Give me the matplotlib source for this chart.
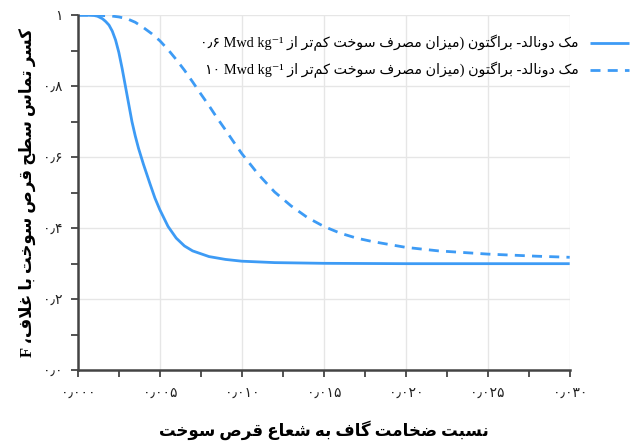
import numpy as np
import matplotlib
matplotlib.use('Agg')
import matplotlib.pyplot as plt
from matplotlib.ticker import MultipleLocator

# Data
gap_solid = [0.0, 0.0005, 0.0010, 0.0012, 0.0015, 0.0017, 0.0019, 0.0021, 0.0023, 0.0025,
             0.0027, 0.0029, 0.0031, 0.0033, 0.0035, 0.0037, 0.0040, 0.0044, 0.0047,
             0.0050, 0.0055, 0.0060, 0.0065, 0.0070, 0.0080, 0.0090, 0.0100, 0.0120,
             0.0150, 0.0200, 0.0250, 0.0300]
f_solid = [1.000, 1.000, 0.999, 0.997, 0.990, 0.982, 0.972, 0.955, 0.930, 0.895,
           0.850, 0.800, 0.750, 0.700, 0.660, 0.625, 0.580, 0.525, 0.485,
           0.452, 0.405, 0.372, 0.350, 0.336, 0.320, 0.312, 0.307, 0.303,
           0.301, 0.300, 0.300, 0.300]

gap_dashed = [0.0, 0.0010, 0.0020, 0.0025, 0.0030, 0.0035, 0.0040, 0.0045, 0.0050, 0.0055,
              0.0060, 0.0065, 0.0070, 0.0075, 0.0080, 0.0085, 0.0090, 0.0095, 0.0100,
              0.0110, 0.0120, 0.0130, 0.0140, 0.0150, 0.0160, 0.0170, 0.0180, 0.0200,
              0.0220, 0.0250, 0.0280, 0.0300]
f_dashed = [1.000, 1.000, 0.998, 0.995, 0.990, 0.980, 0.965, 0.948, 0.928, 0.903,
            0.875, 0.845, 0.812, 0.778, 0.745, 0.710, 0.677, 0.643, 0.610,
            0.552, 0.502, 0.463, 0.430, 0.405, 0.386, 0.372, 0.362, 0.346,
            0.336, 0.327, 0.321, 0.318]

x_ticks = [0.0, 0.005, 0.010, 0.015, 0.020, 0.025, 0.030]
x_tick_labels = ['0.000', '0.005', '0.010', '0.015', '0.020', '0.025', '0.030']
y_ticks = [0.0, 0.2, 0.4, 0.6, 0.8, 1.0]
y_tick_labels = ['0.0', '0.2', '0.4', '0.6', '0.8', '1']

label_solid_num = '0.6'
label_dashed_num = '10'
label_text = 'مک دونالد- براگتون (میزان مصرف سوخت کم\u200cتر از'
x_title = 'نسبت ضخامت گاف به شعاع قرص سوخت'
y_title = 'کسر تماس سطح قرص سوخت با غلاف،'

# Arabic/Persian shaping (isolated, final, initial, medial)
FORMS = {
    'ا': ('\ufe8d', '\ufe8e'), 'د': ('\ufea9', '\ufeaa'), 'ر': ('\ufead', '\ufeae'),
    'ز': ('\ufeaf', '\ufeb0'), 'و': ('\ufeed', '\ufeee'),
    'ب': ('\ufe8f', '\ufe90', '\ufe91', '\ufe92'), 'ت': ('\ufe95', '\ufe96', '\ufe97', '\ufe98'),
    'ح': ('\ufea1', '\ufea2', '\ufea3', '\ufea4'), 'خ': ('\ufea5', '\ufea6', '\ufea7', '\ufea8'),
    'س': ('\ufeb1', '\ufeb2', '\ufeb3', '\ufeb4'), 'ش': ('\ufeb5', '\ufeb6', '\ufeb7', '\ufeb8'),
    'ص': ('\ufeb9', '\ufeba', '\ufebb', '\ufebc'), 'ض': ('\ufebd', '\ufebe', '\ufebf', '\ufec0'),
    'ط': ('\ufec1', '\ufec2', '\ufec3', '\ufec4'), 'ع': ('\ufec9', '\ufeca', '\ufecb', '\ufecc'),
    'غ': ('\ufecd', '\ufece', '\ufecf', '\ufed0'), 'ف': ('\ufed1', '\ufed2', '\ufed3', '\ufed4'),
    'ق': ('\ufed5', '\ufed6', '\ufed7', '\ufed8'), 'ل': ('\ufedd', '\ufede', '\ufedf', '\ufee0'),
    'م': ('\ufee1', '\ufee2', '\ufee3', '\ufee4'), 'ن': ('\ufee5', '\ufee6', '\ufee7', '\ufee8'),
    'ه': ('\ufee9', '\ufeea', '\ufeeb', '\ufeec'), 'ک': ('\ufb8e', '\ufb8f', '\ufb90', '\ufb91'),
    'گ': ('\ufb92', '\ufb93', '\ufb94', '\ufb95'), 'ی': ('\ufbfc', '\ufbfd', '\ufbfe', '\ufbff'),
}
MIRROR = {'(': ')', ')': '('}


def dual(c):
    return c in FORMS and len(FORMS[c]) == 4


def shape(text):
    out = []
    i = 0
    while i < len(text):
        c = text[i]
        if c not in FORMS:
            out.append(c)
            i += 1
            continue
        jp = i > 0 and dual(text[i - 1])
        if c == 'ل' and i + 1 < len(text) and text[i + 1] == 'ا':
            out.append('\ufefc' if jp else '\ufefb')
            i += 2
            continue
        jn = dual(c) and i + 1 < len(text) and text[i + 1] in FORMS
        f = FORMS[c]
        if jp and jn:
            out.append(f[3])
        elif jp:
            out.append(f[1])
        elif jn:
            out.append(f[2])
        else:
            out.append(f[0])
        i += 1
    return ''.join(out).replace('\u200c', '')


def rtl(text):
    return ''.join(MIRROR.get(c, c) for c in reversed(shape(text)))


def fa_digits(s):
    return s.translate(str.maketrans('0123456789.', '۰۱۲۳۴۵۶۷۸۹٫'))


serif = ['Liberation Serif', 'DejaVu Sans']
blue = '#3d9bf5'
axis_col = '#444444'

fig = plt.figure(figsize=(6.33, 4.46), dpi=100)
ax = fig.add_axes([0.123, 0.170, 0.777, 0.796])

ax.plot(gap_solid, f_solid, color=blue, lw=2.0, solid_capstyle='butt',
        label=fa_digits(label_solid_num) + ' Mwd kg\u207b\u00b9 ' + rtl(label_text))
ax.plot(gap_dashed, f_dashed, color=blue, lw=2.0, dashes=(3.6, 2.6),
        label=fa_digits(label_dashed_num) + ' Mwd kg\u207b\u00b9 ' + rtl(label_text))

ax.set_xlim(0, 0.030)
ax.set_ylim(0, 1.0)
ax.set_xticks(x_ticks)
ax.set_xticklabels([fa_digits(s) for s in x_tick_labels], family=serif, fontsize=10)
ax.set_yticks(y_ticks)
ax.set_yticklabels([fa_digits(s) for s in y_tick_labels], family=serif, fontsize=10)
ax.xaxis.set_minor_locator(MultipleLocator(0.0025))
ax.yaxis.set_minor_locator(MultipleLocator(0.1))
ax.tick_params(which='both', direction='out', length=5, width=1.3, color=axis_col,
               labelcolor='#222222')
ax.tick_params(axis='x', pad=7)
ax.tick_params(axis='y', pad=6)
ax.grid(True, which='major', color='#e6e6e6', lw=1.0)
ax.set_axisbelow(True)
for s in ['top', 'right']:
    ax.spines[s].set_visible(False)
for s in ['left', 'bottom']:
    ax.spines[s].set_color(axis_col)
    ax.spines[s].set_linewidth(1.8)

ax.set_xlabel(rtl(x_title), family=serif, fontsize=12, fontweight='bold', labelpad=15)
ax.set_ylabel('F ' + rtl(y_title), family=serif, fontsize=12, fontweight='bold', labelpad=5)

leg = ax.legend(loc='upper right', bbox_to_anchor=(1.014, 0.95), bbox_transform=fig.transFigure,
                frameon=False, markerfirst=False, handlelength=2.7, handletextpad=0.8,
                labelspacing=0.75, prop={'family': serif, 'size': 10.3})

fig.savefig('out.png', dpi=100)
